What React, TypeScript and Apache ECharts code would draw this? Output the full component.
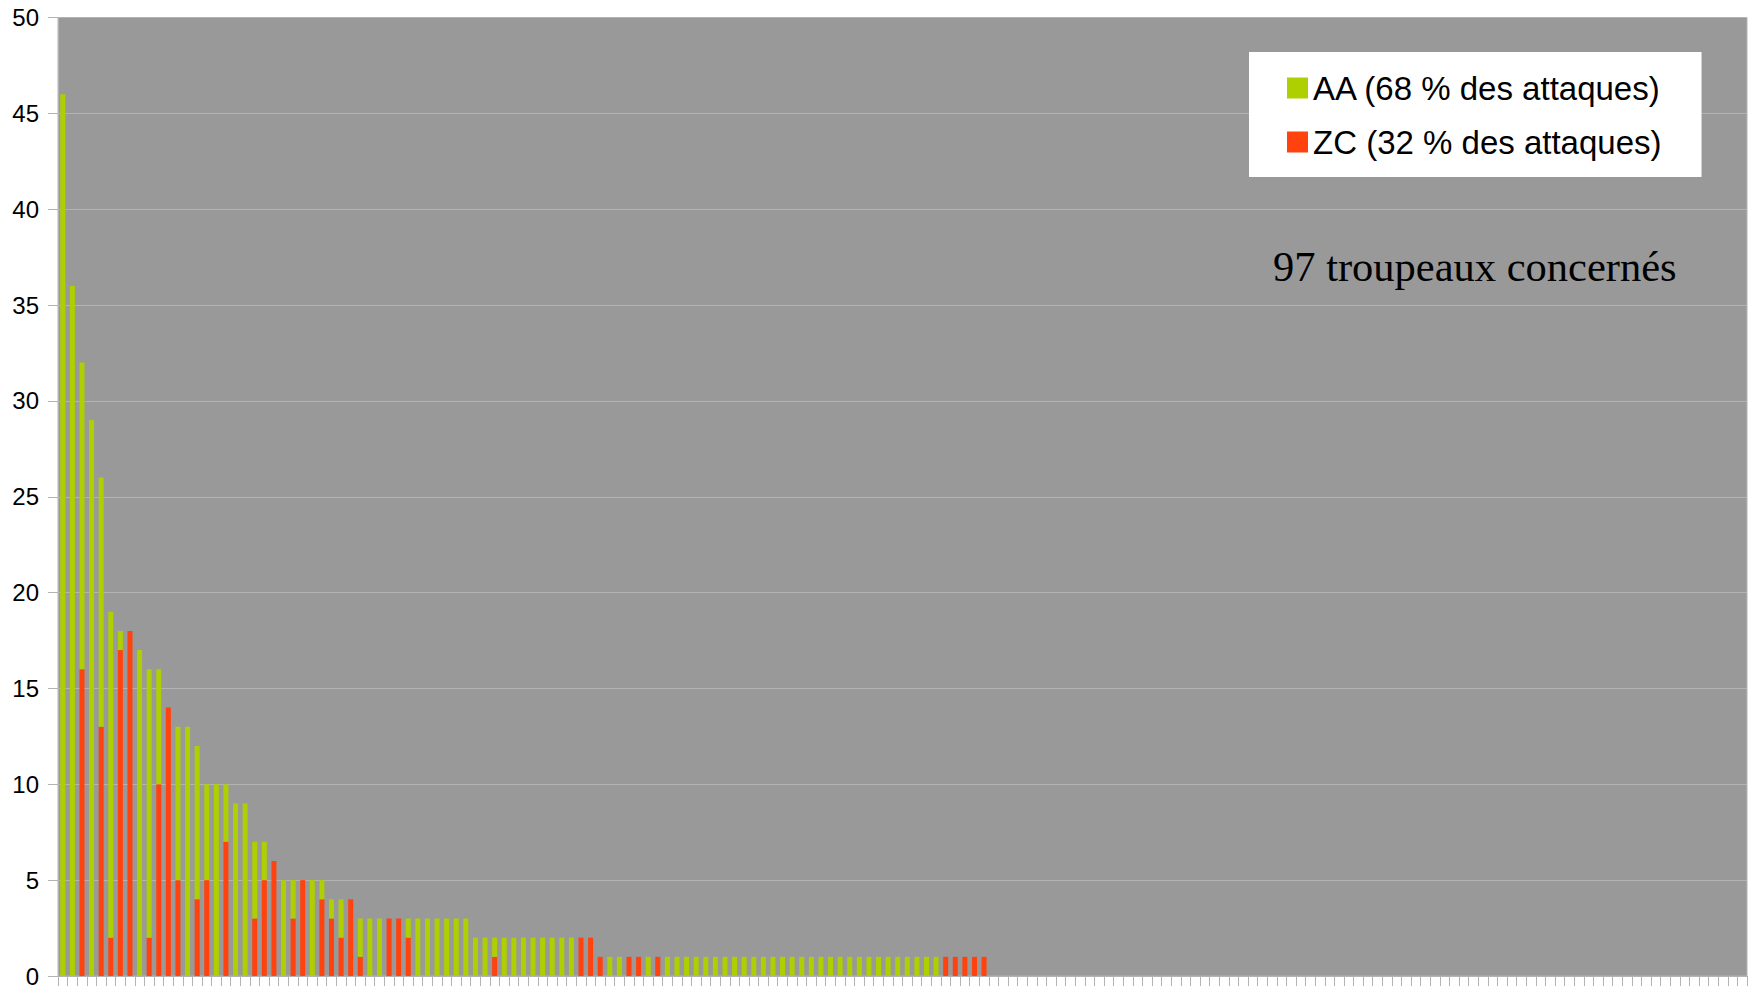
import React, { useEffect, useRef } from "react";
import * as echarts from "echarts";

// 176 slots on the category axis; 97 herds carry data
const categories: string[] = Array.from({ length: 176 }, (_, i) => String(i + 1));

// ZC attacks per herd (bottom of each stacked bar)
const zcValues: number[] = [
  0, 0, 16, 0, 13, 2, 17, 18, 0, 2,
  10, 14, 5, 0, 4, 5, 0, 7, 0, 0,
  3, 5, 6, 0, 3, 5, 0, 4, 3, 2,
  4, 1, 0, 0, 3, 3, 2, 0, 0, 0,
  0, 0, 0, 0, 0, 1, 0, 0, 0, 0,
  0, 0, 0, 0, 2, 2, 1, 0, 0, 1,
  1, 0, 1, 0, 0, 0, 0, 0, 0, 0,
  0, 0, 0, 0, 0, 0, 0, 0, 0, 0,
  0, 0, 0, 0, 0, 0, 0, 0, 0, 0,
  0, 0, 1, 1, 1, 1, 1,
];

// AA attacks per herd (top of each stacked bar)
const aaValues: number[] = [
  46, 36, 16, 29, 13, 17, 1, 0, 17, 14,
  6, 0, 8, 13, 8, 5, 10, 3, 9, 9,
  4, 2, 0, 5, 2, 0, 5, 1, 1, 2,
  0, 2, 3, 3, 0, 0, 1, 3, 3, 3,
  3, 3, 3, 2, 2, 1, 2, 2, 2, 2,
  2, 2, 2, 2, 0, 0, 0, 1, 1, 0,
  0, 1, 0, 1, 1, 1, 1, 1, 1, 1,
  1, 1, 1, 1, 1, 1, 1, 1, 1, 1,
  1, 1, 1, 1, 1, 1, 1, 1, 1, 1,
  1, 1, 0, 0, 0, 0, 0,
];

const seriesNames = ["AA (68 % des attaques)", "ZC (32 % des attaques)"];
const annotation = "97 troupeaux concernés";

const GREEN = "#aecf00";
const RED = "#ff420e";
const LINE = "#b3b3b3";

export default function App() {
  const ref = useRef<HTMLDivElement>(null);

  useEffect(() => {
    if (!ref.current) return;
    const chart = echarts.init(ref.current, null, { renderer: "svg" });
    chart.setOption({
      animation: false,
      backgroundColor: "#ffffff",
      textStyle: { fontFamily: "Liberation Sans, Arial, sans-serif" },
      grid: {
        left: 58,
        right: 10,
        top: 17.5,
        bottom: 10.5,
        show: true,
        backgroundColor: "#999999",
        borderColor: LINE,
        borderWidth: 1,
        containLabel: false,
      },
      legend: {
        orient: "vertical",
        left: 1249,
        top: 52,
        backgroundColor: "#ffffff",
        padding: [19, 40, 18, 38],
        itemWidth: 21,
        itemHeight: 21,
        itemGap: 20,
        icon: "rect",
        data: [seriesNames[0], seriesNames[1]],
        textStyle: {
          fontSize: 33,
          lineHeight: 34,
          color: "#000000",
          fontFamily: "Liberation Sans, Arial, sans-serif",
        },
      },
      xAxis: {
        type: "category",
        data: categories,
        boundaryGap: true,
        axisLine: { show: true, lineStyle: { color: LINE, width: 1 } },
        axisTick: { show: true, interval: 0, length: 10, lineStyle: { color: LINE, width: 1 } },
        axisLabel: { show: false },
        splitLine: { show: false },
      },
      yAxis: {
        type: "value",
        min: 0,
        max: 50,
        interval: 5,
        axisLine: { show: true, lineStyle: { color: LINE, width: 1 } },
        axisTick: { show: true, length: 10, lineStyle: { color: LINE, width: 1 } },
        axisLabel: {
          margin: 19,
          fontSize: 24,
          color: "#000000",
          fontFamily: "Liberation Sans, Arial, sans-serif",
        },
        splitLine: { show: true, lineStyle: { color: LINE, width: 1 } },
      },
      series: [
        {
          name: seriesNames[1],
          type: "bar",
          stack: "total",
          data: zcValues,
          barWidth: 5,
          itemStyle: { color: RED },
        },
        {
          name: seriesNames[0],
          type: "bar",
          stack: "total",
          data: aaValues,
          barWidth: 5,
          itemStyle: { color: GREEN },
        },
      ],
      graphic: [
        {
          type: "text",
          left: 1273,
          top: 245,
          style: {
            text: annotation,
            fontSize: 42.5,
            fontFamily: "Liberation Serif, Times New Roman, serif",
            fill: "#000000",
          },
        },
      ],
    });
    return () => chart.dispose();
  }, []);

  return (
    <div
      ref={ref}
      style={{ position: "absolute", left: 0, top: 0, width: 1757, height: 988 }}
    />
  );
}
